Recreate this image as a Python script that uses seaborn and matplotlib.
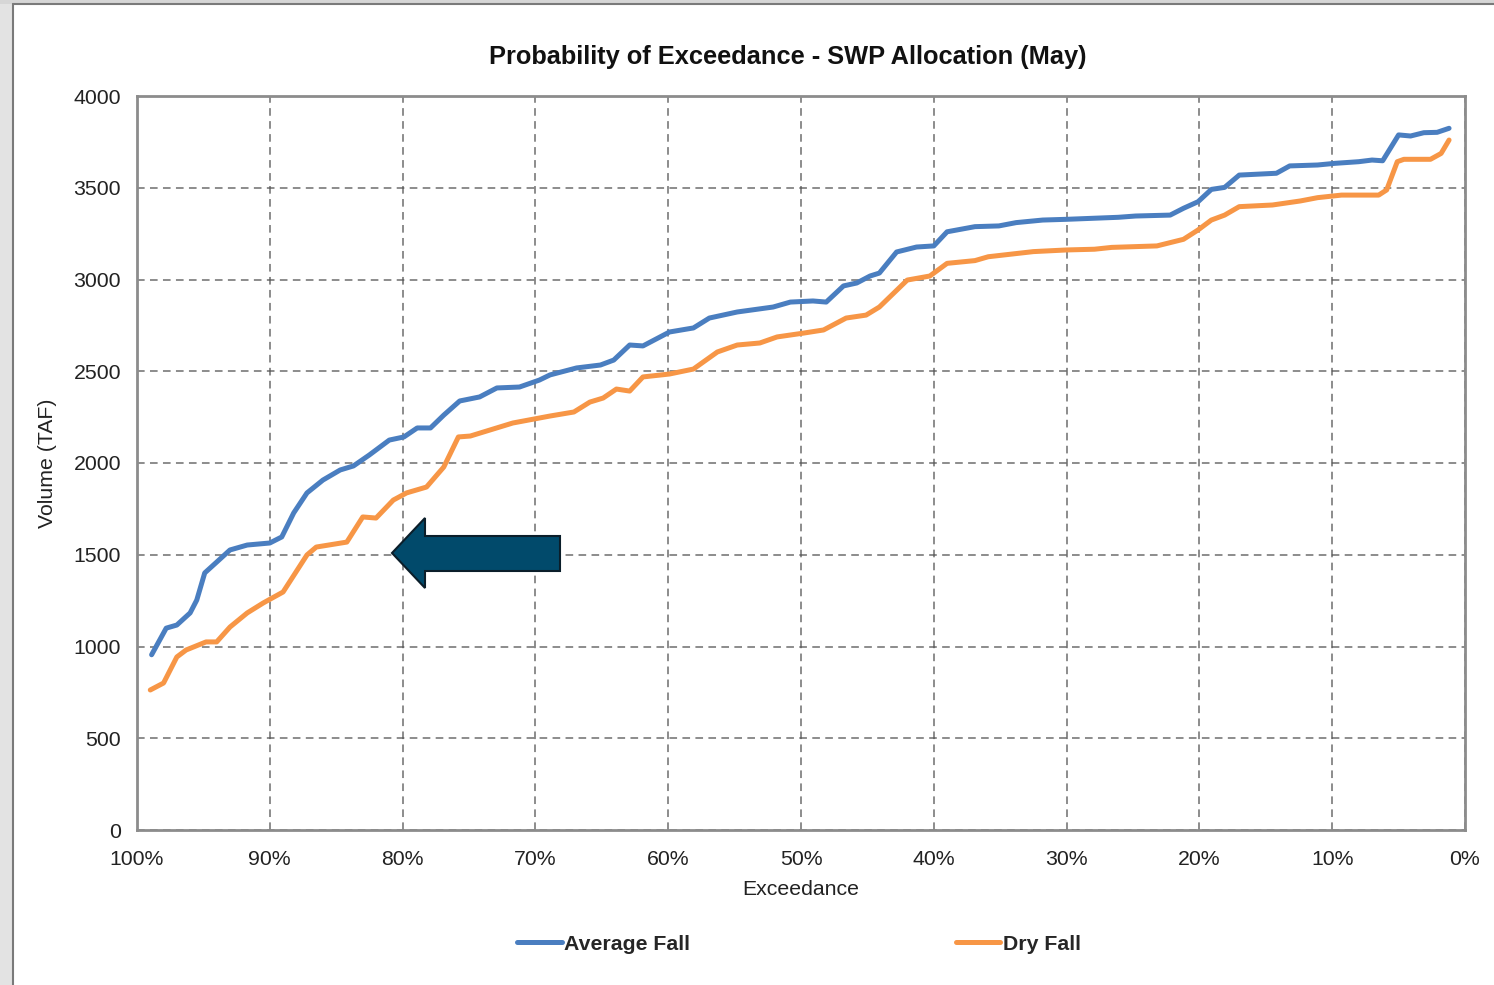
import matplotlib
matplotlib.use("Agg")
from matplotlib import pyplot as plt
from matplotlib.patches import Polygon, Rectangle
from matplotlib.ticker import FuncFormatter, MultipleLocator
import seaborn as sns
import pandas as pd

# exceedance (%) and volume (TAF)
pct_avg = [98.9, 97.8, 97.0, 96.0, 95.5, 94.9, 94.0, 93.0, 91.7, 90.0,
           89.1, 88.2, 87.2, 86.0, 84.7, 83.7, 82.5, 81.0, 79.9, 78.9,
           77.9, 76.9, 75.7, 74.2, 72.9, 71.2, 69.7, 68.9, 66.9, 65.1,
           64.1, 62.9, 61.9, 59.9, 58.1, 56.9, 54.8, 52.1, 50.8, 49.1,
           48.1, 46.8, 45.8, 44.8, 44.1, 42.8, 41.3, 40.0, 39.0, 36.9,
           35.1, 33.8, 31.8, 30.0, 26.1, 24.8, 22.2, 21.2, 20.1, 19.1,
           18.1, 17.0, 14.2, 13.2, 11.1, 9.8, 8.0, 7.0, 6.2, 5.0,
           4.1, 3.1, 2.1, 1.2]
vol_avg = [955, 1100, 1117, 1183, 1253, 1401, 1460, 1526, 1553, 1564,
           1597, 1728, 1837, 1907, 1962, 1984, 2044, 2125, 2142, 2191,
           2191, 2261, 2338, 2360, 2409, 2414, 2452, 2480, 2518, 2534,
           2561, 2643, 2638, 2714, 2736, 2790, 2823, 2850, 2877, 2883,
           2877, 2965, 2981, 3019, 3035, 3150, 3177, 3183, 3260, 3288,
           3292, 3310, 3324, 3328, 3339, 3346, 3351, 3388, 3424, 3491,
           3502, 3569, 3579, 3619, 3624, 3633, 3642, 3651, 3647, 3788,
           3782, 3800, 3802, 3824]

pct_dry = [99.0, 98.0, 97.0, 96.3, 94.8, 94.0, 93.0, 91.7, 90.5, 89.0,
           87.2, 86.5, 84.2, 83.0, 82.0, 80.7, 79.7, 78.2, 76.9, 75.8,
           74.9, 71.7, 68.9, 67.1, 65.9, 64.9, 63.9, 62.9, 61.9, 59.9,
           58.1, 56.3, 54.8, 53.1, 51.8, 49.8, 48.3, 46.6, 45.1, 44.1,
           42.0, 40.3, 39.0, 36.9, 35.9, 32.5, 30.0, 27.9, 26.6, 23.2,
           21.2, 20.1, 19.1, 18.1, 17.0, 14.5, 12.4, 11.1, 9.3, 6.5,
           5.9, 5.1, 4.6, 2.6, 1.8, 1.2]
vol_dry = [763, 801, 943, 981, 1025, 1025, 1106, 1183, 1237, 1297,
           1499, 1542, 1569, 1706, 1700, 1798, 1837, 1869, 1978, 2142,
           2147, 2218, 2256, 2278, 2332, 2354, 2403, 2392, 2469, 2485,
           2512, 2605, 2643, 2654, 2687, 2708, 2725, 2790, 2806, 2850,
           2997, 3019, 3088, 3103, 3124, 3152, 3161, 3165, 3175, 3183,
           3219, 3270, 3324, 3351, 3397, 3406, 3428, 3446, 3460, 3460,
           3488, 3642, 3655, 3655, 3687, 3760]

series = ["Average Fall", "Dry Fall"]
colors = ["#4A7EC0", "#F79646"]

df = pd.concat([
    pd.DataFrame({"Exceedance": pct_avg, "Volume": vol_avg, "Series": series[0]}),
    pd.DataFrame({"Exceedance": pct_dry, "Volume": vol_dry, "Series": series[1]}),
])

sns.set_style("white")
plt.rcParams["font.family"] = ["Liberation Sans", "DejaVu Sans"]

fig = plt.figure(figsize=(14.94, 9.85), dpi=100)
ax = fig.add_axes([137 / 1494, 1 - 830 / 985, 1328 / 1494, 734 / 985])

sns.lineplot(data=df, x="Exceedance", y="Volume", hue="Series", palette=colors,
             sort=False, linewidth=3.6, ax=ax, legend=False,
             solid_capstyle="round", solid_joinstyle="round")

ax.set_xlim(100, 0)
ax.set_ylim(0, 4000)
ax.xaxis.set_major_locator(MultipleLocator(10))
ax.yaxis.set_major_locator(MultipleLocator(500))
ax.xaxis.set_major_formatter(FuncFormatter(lambda v, p: f"{v:.0f}%"))
ax.grid(True, color="#555555", linestyle=(0, (5, 3.5)), linewidth=1.1, alpha=0.85)
ax.set_axisbelow(True)
for s in ax.spines.values():
    s.set_color("#8c8c8c")
    s.set_linewidth(2)
ax.tick_params(direction="inout", length=11, width=1.2, color="#8c8c8c",
               labelsize=15.3, labelcolor="#222222", pad=6)
ax.tick_params(axis="x", pad=9)

ax.set_xlabel("Exceedance", fontsize=15.3, color="#222222", labelpad=8)
ax.set_ylabel("Volume (TAF)", fontsize=15.3, color="#222222", labelpad=12)

fig.text(788 / 1494, 1 - 57 / 985, "Probability of Exceedance - SWP Allocation (May)",
         ha="center", va="center", fontsize=18.3, fontweight="bold", color="#111111")

handles = [plt.Line2D([], [], color=c, linewidth=3.6) for c in colors]
fig.legend(handles, series, loc="center", bbox_to_anchor=(799 / 1494, 1 - 944 / 985),
           ncol=2, frameon=False, handlelength=2.1, handletextpad=0.1,
           columnspacing=12.5, prop={"size": 15.3, "weight": "bold"})

# block arrow pointing left
arrow_px = [(392, 553), (425, 518), (425, 536), (560, 536), (560, 571),
            (425, 571), (425, 588)]
fig.patches.append(Polygon([(x / 1494, 1 - y / 985) for x, y in arrow_px],
                           closed=True, transform=fig.transFigure,
                           facecolor="#014A6B", edgecolor="#0B1E2A", linewidth=1.5,
                           zorder=5))

# slide frame round the chart
fig.patches.append(Rectangle((0, 0), 13 / 1494, 1, transform=fig.transFigure,
                             facecolor="#e3e3e3", edgecolor="none", zorder=0))
fig.patches.append(Rectangle((0, 1 - 4 / 985), 1, 4 / 985, transform=fig.transFigure,
                             facecolor="#d6d6d6", edgecolor="none", zorder=0))
fig.add_artist(plt.Line2D([13 / 1494, 13 / 1494], [0, 1 - 4 / 985],
                          transform=fig.transFigure, color="#7a7a7a", linewidth=1.5))
fig.add_artist(plt.Line2D([13 / 1494, 1], [1 - 4 / 985, 1 - 4 / 985],
                          transform=fig.transFigure, color="#7a7a7a", linewidth=1.5))

plt.savefig("out.png", dpi=100)
